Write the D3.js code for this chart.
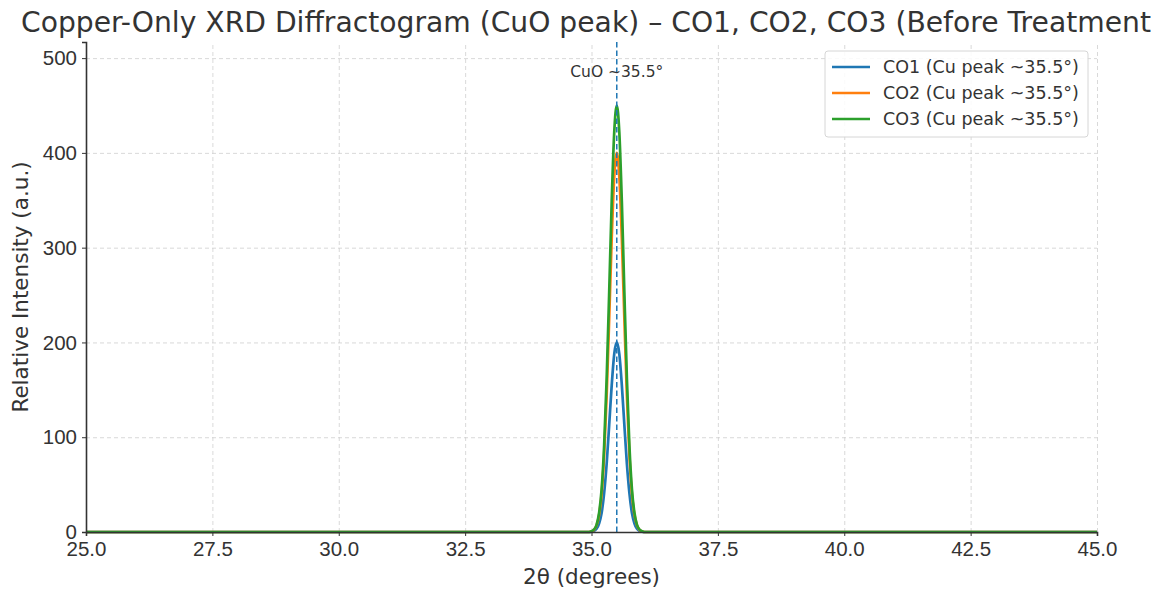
<!DOCTYPE html>
<html>
<head>
<meta charset="utf-8">
<script src="https://cdn.jsdelivr.net/npm/d3@7"></script>
<style>
  body { margin: 0; background: #fff; }
  svg { display: block; font-family: "DejaVu Sans", sans-serif; }
  .grid line { stroke: #cfcfcf; stroke-dasharray: 4,3; stroke-width: 0.8; }
  .grid path { display: none; }
  .axis text { fill: #333; font-size: 20.5px; }
  .axis line, .axis path { stroke: #333; }
</style>
</head>
<body>
<div id="chart"></div>
<script>
// peak samples (2θ in degrees, intensity a.u.)
const twoTheta = [25.0, 34.9, 34.95, 35.0, 35.05, 35.1, 35.15, 35.2, 35.25, 35.3, 35.35, 35.4, 35.45,
  35.5, 35.55, 35.6, 35.65, 35.7, 35.75, 35.8, 35.85, 35.9, 35.95, 36.0, 36.05, 36.1, 45.0];
const co1 = [0, 0, 0, 0.3, 1.1, 3.4, 9, 20, 41, 72, 113, 155, 188,
  200, 188, 155, 113, 72, 41, 20, 9, 3.4, 1.1, 0.3, 0, 0, 0];
const co2 = [0, 0, 0, 0.7, 2.3, 7, 18, 40, 81, 144, 225, 310, 375,
  400, 375, 310, 225, 144, 81, 40, 18, 7, 2.3, 0.7, 0, 0, 0];
const co3 = [0, 0, 0, 0.8, 2.6, 7.6, 20, 45, 91, 162, 253, 349, 422,
  450, 422, 349, 253, 162, 91, 45, 20, 7.6, 2.6, 0.8, 0, 0, 0];
const seriesNames = ["CO1 (Cu peak ~35.5°)", "CO2 (Cu peak ~35.5°)", "CO3 (Cu peak ~35.5°)"];
const seriesColors = ["#1f77b4", "#ff7f0e", "#2ca02c"];
const xTicks = [25, 27.5, 30, 32.5, 35, 37.5, 40, 42.5, 45];
const yTicks = [0, 100, 200, 300, 400, 500];
const peakPos = 35.5;

const series = [co1, co2, co3].map((vals, i) => ({
  name: seriesNames[i],
  color: seriesColors[i],
  points: twoTheta.map((t, j) => ({ x: t, y: vals[j] }))
}));

const W = 1151, H = 591;
const margin = { top: 42, right: 54, bottom: 59, left: 86 };
const width = W - margin.left - margin.right;
const height = H - margin.top - margin.bottom;

const svg = d3.select("#chart").append("svg")
  .attr("width", W)
  .attr("height", H);

const g = svg.append("g")
  .attr("transform", `translate(${margin.left},${margin.top})`);

const x = d3.scaleLinear().domain([25, 45]).range([0, width]);
const y = d3.scaleLinear().domain([0, 517]).range([height, 0]);

// grid
g.append("g")
  .attr("class", "grid")
  .attr("transform", `translate(0,${height})`)
  .call(d3.axisBottom(x).tickValues(xTicks).tickSize(-height).tickFormat(""));
g.append("g")
  .attr("class", "grid")
  .call(d3.axisLeft(y).tickValues(yTicks).tickSize(-width).tickFormat(""));

// curves
const line = d3.line().x(d => x(d.x)).y(d => y(d.y)).curve(d3.curveMonotoneX);
series.forEach(s => {
  g.append("path")
    .datum(s.points)
    .attr("fill", "none")
    .attr("stroke", s.color)
    .attr("stroke-width", 2.7)
    .attr("stroke-linejoin", "round")
    .attr("d", line);
});

// reference line
g.append("line")
  .attr("x1", x(peakPos)).attr("x2", x(peakPos))
  .attr("y1", 0).attr("y2", height)
  .attr("stroke", "#1f77b4")
  .attr("stroke-width", 1.5)
  .attr("stroke-dasharray", "5.5,3");

g.append("text")
  .attr("x", x(peakPos))
  .attr("y", y(480))
  .attr("text-anchor", "middle")
  .attr("fill", "#333")
  .style("font-size", "15.5px")
  .text("CuO ~35.5°");

// axes
const xAxis = g.append("g")
  .attr("class", "axis")
  .attr("transform", `translate(0,${height})`)
  .call(d3.axisBottom(x).tickValues(xTicks).tickSizeOuter(0).tickSize(4).tickPadding(5)
    .tickFormat(d3.format(".1f")));
xAxis.select(".domain").attr("stroke-width", 1.6);

const yAxis = g.append("g")
  .attr("class", "axis")
  .call(d3.axisLeft(y).tickValues(yTicks).tickSizeOuter(0).tickSize(4).tickPadding(5));
yAxis.select(".domain").attr("stroke-width", 1.6);

// axis labels
svg.append("text")
  .attr("x", margin.left + width / 2)
  .attr("y", 584)
  .attr("text-anchor", "middle")
  .attr("fill", "#333")
  .style("font-size", "21.5px")
  .text("2θ (degrees)");

svg.append("text")
  .attr("transform", `translate(28,${margin.top + height / 2}) rotate(-90)`)
  .attr("text-anchor", "middle")
  .attr("fill", "#333")
  .style("font-size", "21.5px")
  .text("Relative Intensity (a.u.)");

// title (overflows the canvas on the right, as in the original)
svg.append("text")
  .attr("x", margin.left + width / 2)
  .attr("y", 32)
  .attr("text-anchor", "middle")
  .attr("fill", "#333")
  .style("font-size", "28.2px")
  .text("Copper-Only XRD Diffractogram (CuO peak) – CO1, CO2, CO3 (Before Treatment)");

// legend
const legend = svg.append("g").attr("transform", "translate(825,51)");
legend.append("rect")
  .attr("width", 263).attr("height", 86)
  .attr("rx", 3)
  .attr("fill", "rgba(255,255,255,0.85)")
  .attr("stroke", "#d6d6d6");
series.forEach((s, i) => {
  const yy = 16 + i * 26;
  legend.append("line")
    .attr("x1", 7).attr("x2", 45)
    .attr("y1", yy).attr("y2", yy)
    .attr("stroke", s.color)
    .attr("stroke-width", 2.7);
  legend.append("text")
    .attr("x", 58).attr("y", yy)
    .attr("dy", "0.35em")
    .attr("fill", "#333")
    .style("font-size", "17.5px")
    .text(s.name);
});
</script>
</body>
</html>
